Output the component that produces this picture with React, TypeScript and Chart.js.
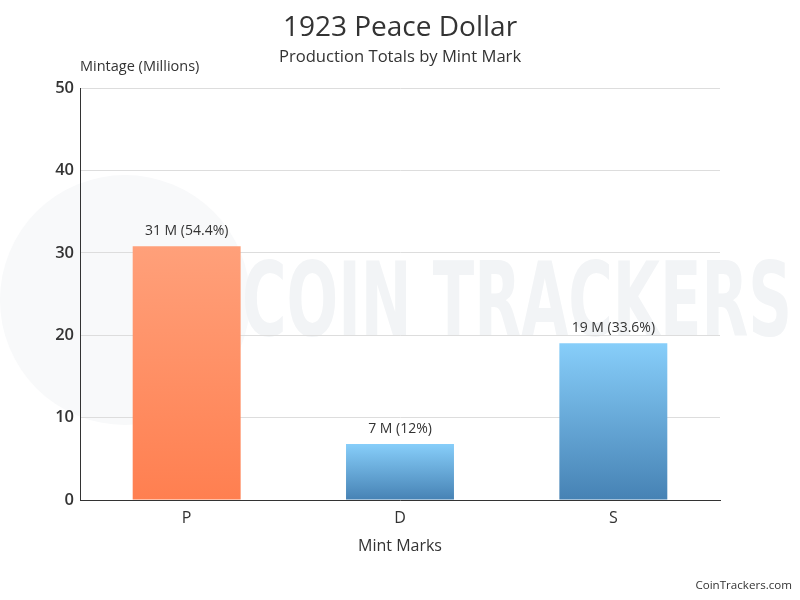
import React, { useEffect, useRef } from "react";
import { Chart, registerables } from "chart.js";

Chart.register(...registerables);

const categories = ["P", "D", "S"];
const mintage = [30.8, 6.811, 19.02];
const barLabels = ["31 M (54.4%)", "7 M (12%)", "19 M (33.6%)"];
const yTicks = [0, 10, 20, 30, 40, 50];
const titleText = "1923 Peace Dollar";
const subtitleText = "Production Totals by Mint Mark";
const yTitleText = "Mintage (Millions)";
const xTitleText = "Mint Marks";
const footerText = "CoinTrackers.com";
const watermarkText = "COIN TRACKERS";

const gradTop = ["#FFA07A", "#87CEFA", "#87CEFA"];
const gradBottom = ["#FF7F50", "#4682B4", "#4682B4"];

const FONT = "'Open Sans', 'Noto Sans', sans-serif";

const decorPlugin = {
  id: "decor",
  beforeDraw(chart: any) {
    const ctx = chart.ctx;
    ctx.save();
    ctx.fillStyle = "#ffffff";
    ctx.fillRect(0, 0, chart.width, chart.height);
    // faint logo circle
    ctx.fillStyle = "#f8f9fa";
    ctx.beginPath();
    ctx.arc(125, 300, 125, 0, Math.PI * 2);
    ctx.fill();
    // watermark text
    ctx.fillStyle = "#f2f4f6";
    ctx.font = "bold 104px 'DejaVu Sans Condensed', 'Liberation Sans Narrow', sans-serif";
    ctx.textBaseline = "alphabetic";
    ctx.textAlign = "left";
    const w = ctx.measureText(watermarkText).width;
    ctx.translate(242, 336);
    ctx.scale(550 / w, 1);
    ctx.fillText(watermarkText, 0, 0);
    ctx.restore();
  },
  afterDatasetsDraw(chart: any) {
    const ctx = chart.ctx;
    const meta = chart.getDatasetMeta(0);
    ctx.save();
    ctx.fillStyle = "#333333";
    ctx.font = `14px ${FONT}`;
    ctx.textAlign = "center";
    ctx.textBaseline = "middle";
    meta.data.forEach((bar: any, i: number) => {
      ctx.fillText(barLabels[i], bar.x, bar.y - 15);
    });
    ctx.restore();
  },
  afterDraw(chart: any) {
    const ctx = chart.ctx;
    const area = chart.chartArea;
    ctx.save();
    ctx.fillStyle = "#333333";
    ctx.textAlign = "center";
    ctx.textBaseline = "middle";
    ctx.font = `28px ${FONT}`;
    ctx.fillText(titleText, 400, 28);
    ctx.font = `16.6px ${FONT}`;
    ctx.fillText(subtitleText, 400, 57);
    ctx.font = `16px ${FONT}`;
    ctx.fillText(xTitleText, (area.left + area.right) / 2, 546);
    ctx.textAlign = "left";
    ctx.font = `14.5px ${FONT}`;
    ctx.fillText(yTitleText, area.left, 67);
    ctx.textAlign = "right";
    ctx.font = `11.6px ${FONT}`;
    ctx.fillText(footerText, 792, 586);
    ctx.restore();
  },
};

export default function App() {
  const ref = useRef<HTMLCanvasElement>(null);
  useEffect(() => {
    document.body.style.margin = "0";
    const canvas = ref.current!;
    const chart = new Chart(canvas, {
      type: "bar",
      data: {
        labels: categories,
        datasets: [
          {
            data: mintage,
            backgroundColor: (c: any) => {
              const ch = c.chart;
              const y = ch.scales && ch.scales.y;
              const i = c.dataIndex ?? 0;
              if (!y || c.raw === undefined) return gradBottom[i];
              const top = y.getPixelForValue(c.raw);
              const bottom = y.getPixelForValue(0);
              if (!isFinite(top) || !isFinite(bottom) || top === bottom) return gradBottom[i];
              const g = ch.ctx.createLinearGradient(0, top, 0, bottom);
              g.addColorStop(0, gradTop[i]);
              g.addColorStop(1, gradBottom[i]);
              return g;
            },
            borderWidth: 0,
            barPercentage: 0.506,
            categoryPercentage: 1,
          },
        ],
      },
      options: {
        animation: false,
        responsive: false,
        layout: { padding: { left: 0, right: 80, top: 88, bottom: 0 } },
        plugins: {
          legend: { display: false },
          tooltip: { enabled: false },
          title: { display: false },
        },
        scales: {
          x: {
            grid: { display: false, drawTicks: false },
            border: { display: true, color: "#333333", width: 1 },
            ticks: { color: "#333333", font: { family: FONT, size: 16 }, padding: 9 },
            afterFit: (s: any) => {
              s.height = 100;
            },
          },
          y: {
            min: 0,
            max: 50,
            afterBuildTicks: (s: any) => {
              s.ticks = yTicks.map((v) => ({ value: v }));
            },
            grid: { color: "#dddddd", drawTicks: false, lineWidth: 1 },
            border: { display: true, color: "#333333", width: 1 },
            ticks: { color: "#333333", font: { family: FONT, size: 16.5, weight: "600" }, padding: 6 },
            afterFit: (s: any) => {
              s.width = 80;
            },
          },
        },
      },
      plugins: [decorPlugin],
    });
    return () => chart.destroy();
  }, []);
  return (
    <div style={{ width: 800, height: 600 }}>
      <canvas ref={ref} width={800} height={600} style={{ display: "block" }} />
    </div>
  );
}
